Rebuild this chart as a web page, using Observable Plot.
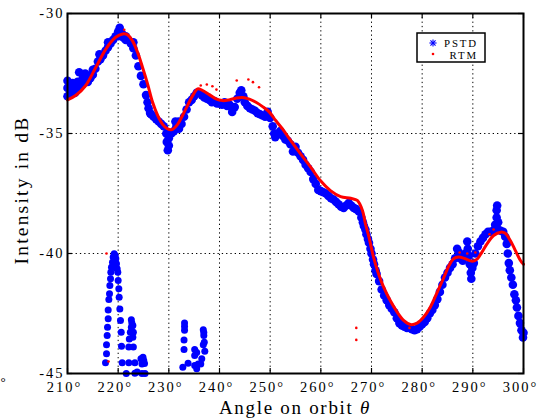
<!DOCTYPE html>
<html><head><meta charset="utf-8">
<script src="https://cdn.jsdelivr.net/npm/d3@7"></script>
<script src="https://cdn.jsdelivr.net/npm/@observablehq/plot@0.6"></script>
<style>body{margin:0;background:#fff} #chart svg{display:block}</style>
</head><body><div id="chart"></div>
<script>
const xTicks = [210,220,230,240,250,260,270,280,290,300];
const yTicks = [-45,-40,-35,-30];
const legendLabels = ["PSTD","RTM"];
const xLabel = "Angle on orbit ";
const xLabelSymbol = "θ";
const yLabel = "Intensity in dB";

// PSTD: main band [angle, dB]
const pstdMain = [
[210,-33.1],[210,-32.8],[210,-33.45],[210.5,-33.0],[210.5,-33.35],[211,-33.15],[211,-32.9],[211.5,-33.05],[211.5,-33.3],[212,-33.1],[212,-32.85],[212.3,-32.45],[212.5,-33.0],[213,-32.95],[213,-32.7],[213.5,-32.5],[213.5,-32.8],[214,-32.85],[214,-32.6],[214.5,-32.7],[215,-32.55],[215,-32.35],[215.5,-32.3],[216,-32.0],[216.3,-31.7],[216.5,-31.9],[217,-31.75],[217.5,-31.55],[218,-31.4],[218,-31.2],[218.5,-31.25],[219,-31.1],[219.5,-30.95],[220,-30.75],[220,-30.95],[220.3,-30.6],[220.8,-30.85],[221,-31.0],[221.5,-31.1],[221.5,-30.95],[222,-31.1],[222.5,-31.25],[223,-31.45],[223,-31.2],[223.5,-31.75],[224,-32.2],[224.5,-32.6],[225,-32.95],[225.5,-33.4],[225.8,-33.7],[226,-33.95],[226.3,-34.15],[226.5,-34.2],[227,-34.3],[227.5,-34.4],[228,-34.5],[228.5,-34.6],[229,-34.7],[229.5,-35.0],[229.6,-35.35],[229.8,-35.7],[230,-35.5],[230,-35.2],[230.5,-35.0],[231,-34.9],[231.3,-34.5],[231.5,-34.7],[232,-34.5],[232,-34.8],[232.5,-34.6],[233,-34.3],[233.5,-34.0],[234,-33.7],[234.5,-33.6],[235,-33.45],[235.5,-33.3],[236,-33.3],[236.5,-33.4],[237,-33.5],[237.5,-33.55],[238,-33.6],[238.5,-33.7],[239,-33.65],[239.5,-33.75],[240,-33.75],[240.5,-33.8],[241,-33.7],[241.5,-33.85],[242,-33.8],[242.5,-34.1],[243,-33.9],[243.5,-33.55],[244,-33.3],[244.3,-33.2],[244.7,-33.45],[245,-33.7],[245.5,-33.85],[246,-33.95],[246.5,-34.0],[247,-34.05],[247.5,-34.15],[248,-34.2],[248.5,-34.25],[249,-34.3],[249.5,-34.1],[250,-34.35],[250.5,-34.7],[250.8,-35.0],[251,-35.15],[251.5,-35.0],[252,-34.9],[252.5,-35.1],[253,-35.25],[253.5,-35.3],[254,-35.45],[254.5,-35.75],[255,-35.55],[255.5,-35.8],[256,-35.95],[256.5,-36.1],[257,-36.3],[257.5,-36.45],[258,-36.6],[258.5,-36.9],[259,-37.1],[259.5,-37.35],[260,-37.4],[260.5,-37.45],[261,-37.5],[261.5,-37.6],[262,-37.7],[262.5,-37.75],[263,-37.85],[263.5,-37.95],[264,-38.05],[264.5,-38.1],[265,-38.0],[265.5,-37.9],[266,-38.0],[266.5,-38.1],[267,-38.15],[267.5,-38.25],[268,-38.5],[268.3,-38.7],[268.5,-38.85],[268.8,-39.0],[269,-39.2],[269.3,-39.4],[269.5,-39.55],[269.8,-39.8],[270,-40.0],[270.3,-40.25],[270.5,-40.45],[270.8,-40.7],[271,-40.85],[271.5,-41.15],[272,-41.5],[272.5,-41.75],[273,-41.95],[273.5,-42.15],[274,-42.3],[274.5,-42.45],[275,-42.7],[275.5,-42.9],[276,-43.0],[276.5,-43.05],[277,-43.1],[277.5,-43.1],[278,-43.15],[278.5,-43.2],[279,-43.15],[279.5,-43.05],[280,-42.95],[280.5,-42.85],[281,-42.7],[281.5,-42.5],[282,-42.35],[282.5,-42.15],[283,-41.9],[283.5,-41.6],[284,-41.3],[284.5,-41.0],[285,-40.8],[285.5,-40.6],[286,-40.45],[286.5,-40.2],[286.9,-39.8],[287.2,-39.95],[287.6,-40.2],[288,-40.3],[288.5,-40.0],[288.9,-39.5],[289,-39.8],[289.2,-40.1],[289.4,-40.45],[289.6,-40.8],[289.7,-41.05],[289.9,-40.6],[290.2,-40.4],[290.5,-40.0],[291,-39.7],[291.5,-39.5],[292,-39.35],[292.5,-39.2],[293,-39.1],[293.5,-39.1],[294,-39.05],[294.4,-38.8],[294.7,-38.5],[294.7,-38.2],[294.8,-38.0],[295,-38.7],[295,-39.0],[295.5,-39.05],[296,-39.1],[296.4,-39.3],[296.7,-39.6],[296.9,-40.0],[297.1,-40.4],[297.3,-40.7],[297.6,-41.0],[297.9,-41.3],[298.2,-41.7],[298.5,-41.95],[298.7,-42.25],[299,-42.6],[299.3,-42.9],[299.6,-43.2],[299.9,-43.5],[300,-43.3]
];
// PSTD: low-level clusters [angle, dB]
const pstdLow = [
[217.5,-44.55],[217.7,-44.18],[217.7,-43.8],[217.83,-43.42],[217.9,-43.07],[218.03,-42.72],[218.03,-42.35],[218.16,-41.92],[218.29,-41.68],[218.36,-41.33],[218.49,-41.05],[218.55,-40.78],[218.68,-40.57],[218.88,-40.36],[219.01,-40.15],[219.21,-40.01],[219.41,-40.08],[219.54,-40.22],[219.67,-40.43],[219.8,-40.64],[219.93,-40.78],[219.0,-40.5],[219.3,-40.3],[219.6,-40.6],[220.0,-41.13],[220.13,-41.47],[220.2,-41.82],[220.33,-42.31],[220.46,-42.79],[220.6,-43.28],[220.66,-43.86],[220.79,-44.55],
[221.6,-45.0],[222.1,-44.55],[222.1,-43.9],[222.2,-43.56],[222.4,-43.28],[222.6,-43.07],[222.7,-42.9],[222.6,-42.76],[222.9,-43.0],[223.0,-43.28],[222.9,-43.49],[223.0,-43.9],[223.3,-44.55],[223.3,-44.99],
[224.5,-44.39],[224.9,-44.32],[225.05,-44.46],[224.7,-44.6],[225.2,-44.58],[223.75,-44.94],[224.7,-45.0],[225.3,-45.0],
[233.1,-42.9],[233.1,-43.04],[233.1,-43.2],[233.0,-43.6],[233.0,-44.0],[233.8,-44.57],[232.76,-44.74],
[235.1,-44.0],[235.1,-44.25],[235.1,-44.67],[235.5,-44.13],[235.5,-44.8],[235.8,-44.6],
[236.8,-43.18],[236.9,-43.29],[236.9,-43.42],[237.0,-43.7],[236.8,-43.8],[237.1,-44.07],[236.5,-44.39],[236.3,-44.6]
];
// RTM smooth curve
const rtmTheta = [210,211.6,213.6,215.6,217.6,219.5,220.9,221.8,222.8,223.8,224.8,225.8,226.8,227.8,228.7,229.7,230.6,231.7,232.7,233.7,234.7,235.7,236.6,238,239.3,240.6,241.9,243.2,244.5,245.9,247.2,248.5,249.8,251.1,252.4,254,256,258,259.9,261.9,263.9,265.9,267.2,268.2,268.8,269.5,270.4,271.4,272.4,273.7,275.1,276.4,277.7,279,280.3,281.6,283,284.3,285.3,286.2,287.2,288.5,289.9,290.9,291.8,292.8,294.1,295.5,296.4,297.4,298.4,299.4,300];
const rtmValue = [-33.6,-33.42,-33.0,-32.24,-31.47,-30.99,-30.85,-30.88,-31.13,-31.6,-32.24,-32.93,-33.7,-34.25,-34.6,-34.8,-34.84,-34.63,-34.25,-33.83,-33.42,-33.14,-33.2,-33.38,-33.56,-33.63,-33.6,-33.53,-33.5,-33.57,-33.7,-33.88,-34.1,-34.46,-34.8,-35.28,-35.85,-36.4,-36.96,-37.38,-37.63,-37.7,-37.79,-38.2,-38.76,-39.32,-40.15,-40.85,-41.4,-41.96,-42.45,-42.8,-42.96,-42.9,-42.65,-42.24,-41.6,-40.99,-40.5,-40.22,-40.15,-40.22,-40.32,-40.22,-39.94,-39.6,-39.25,-39.11,-39.16,-39.46,-39.88,-40.29,-40.45];
// RTM stray points
const rtmStray = [[221.2,-30.68],[236.3,-33.0],[237.5,-32.96],[238.6,-33.03],[239.4,-33.17],[243.4,-32.79],[245.7,-32.75],[246.6,-32.86],[247.8,-33.07],[267.0,-43.1],[267.0,-43.6],[217.7,-40.0],[218.1,-44.5],[287.4,-39.96],[288.9,-40.0],[290.5,-39.96],[293.3,-39.2],[294.1,-39.0],[277.5,-43.1]];

const main = pstdMain.map(([t, v]) => ({t, v}));
const low = pstdLow.map(([t, v]) => ({t, v}));
const rtm = rtmTheta.map((t, i) => ({t, v: rtmValue[i]}));
const serif = "'Liberation Serif','Times New Roman',serif";
const dotted = {stroke: "#000", strokeOpacity: 1, strokeWidth: 1, strokeDasharray: "1.3,3"};

const chart = Plot.plot({
  width: 538, height: 419,
  marginLeft: 67, marginRight: 15, marginTop: 13, marginBottom: 46,
  style: {fontFamily: serif, background: "#fff", overflow: "visible", color: "#000"},
  x: {domain: [210, 300]},
  y: {domain: [-45, -30]},
  marks: [
    Plot.gridX(xTicks, dotted),
    Plot.gridY(yTicks, dotted),
    Plot.dot(main, {x: "t", y: "v", r: 4.3, fill: "#0000ff", stroke: null}),
    Plot.dot(low, {x: "t", y: "v", r: 3.5, fill: "#0000ff", stroke: null}),
    Plot.line(rtm, {x: "t", y: "v", stroke: "#ff0000", strokeWidth: 3, curve: "catmull-rom"}),
    Plot.dot(rtmStray, {x: d => d[0], y: d => d[1], r: 1.3, fill: "#ff0000", stroke: null}),
    Plot.ruleX(xTicks, {x: d => d, y1: -45, y2: -45, insetBottom: 5, stroke: "#000", strokeWidth: 1.2}),
    Plot.ruleX(xTicks, {x: d => d, y1: -30, y2: -30, insetTop: 5, stroke: "#000", strokeWidth: 1.2}),
    Plot.ruleY(yTicks, {y: d => d, x1: 210, x2: 210, insetLeft: 5, stroke: "#000", strokeWidth: 1.2}),
    Plot.ruleY(yTicks, {y: d => d, x1: 300, x2: 300, insetRight: 5, stroke: "#000", strokeWidth: 1.2}),
    Plot.axisX(xTicks, {tickSize: 0, tickPadding: 8.5, tickFormat: d => d + "°", fontSize: 14.5, label: null, dx: -3}),
    Plot.axisY(yTicks, {tickSize: 0, tickPadding: 3, tickFormat: d => String(d), fontSize: 14.5, label: null}),
    Plot.frame({stroke: "#000", strokeWidth: 2})
  ]
});

const svg = d3.select(chart);
svg.selectAll("[aria-label='x-axis tick label'] text, [aria-label='y-axis tick label'] text")
  .style("letter-spacing", "2px");

// axis titles
const xt = svg.append("text").attr("x", 295).attr("y", 414).attr("text-anchor", "middle")
  .attr("font-family", serif).attr("font-size", 19).style("letter-spacing", "1.7px").attr("fill", "#000");
xt.append("tspan").text(xLabel);
xt.append("tspan").attr("font-style", "italic").text(xLabelSymbol);
svg.append("text").attr("transform", "translate(28,190) rotate(-90)").attr("text-anchor", "middle")
  .attr("font-family", serif).attr("font-size", 19.5).style("letter-spacing", "2.2px").attr("fill", "#000")
  .text(yLabel);
svg.append("text").attr("x", 3).attr("y", 386).attr("font-family", serif).attr("font-size", 13).text("°");

// legend
const lg = svg.append("g");
lg.append("rect").attr("x", 417).attr("y", 33).attr("width", 68).attr("height", 29)
  .attr("fill", "#fff").attr("stroke", "#000").attr("stroke-width", 1.5);
const ax = 433, ay = 43;
[0, 45, 90, 135].forEach(a => {
  const r = 3.6, rad = a * Math.PI / 180;
  lg.append("line").attr("x1", ax - r * Math.cos(rad)).attr("y1", ay - r * Math.sin(rad))
    .attr("x2", ax + r * Math.cos(rad)).attr("y2", ay + r * Math.sin(rad))
    .attr("stroke", "#0000ff").attr("stroke-width", 1.1);
});
lg.append("circle").attr("cx", 433).attr("cy", 54).attr("r", 1.3).attr("fill", "#ff0000");
lg.append("text").attr("x", 478).attr("y", 46.5).attr("text-anchor", "end").attr("font-family", serif)
  .attr("font-size", 10.8).style("letter-spacing", "1.9px").text(legendLabels[0]);
lg.append("text").attr("x", 478).attr("y", 59).attr("text-anchor", "end").attr("font-family", serif)
  .attr("font-size", 10.8).style("letter-spacing", "1.9px").text(legendLabels[1]);

document.getElementById("chart").append(chart);
</script></body></html>
